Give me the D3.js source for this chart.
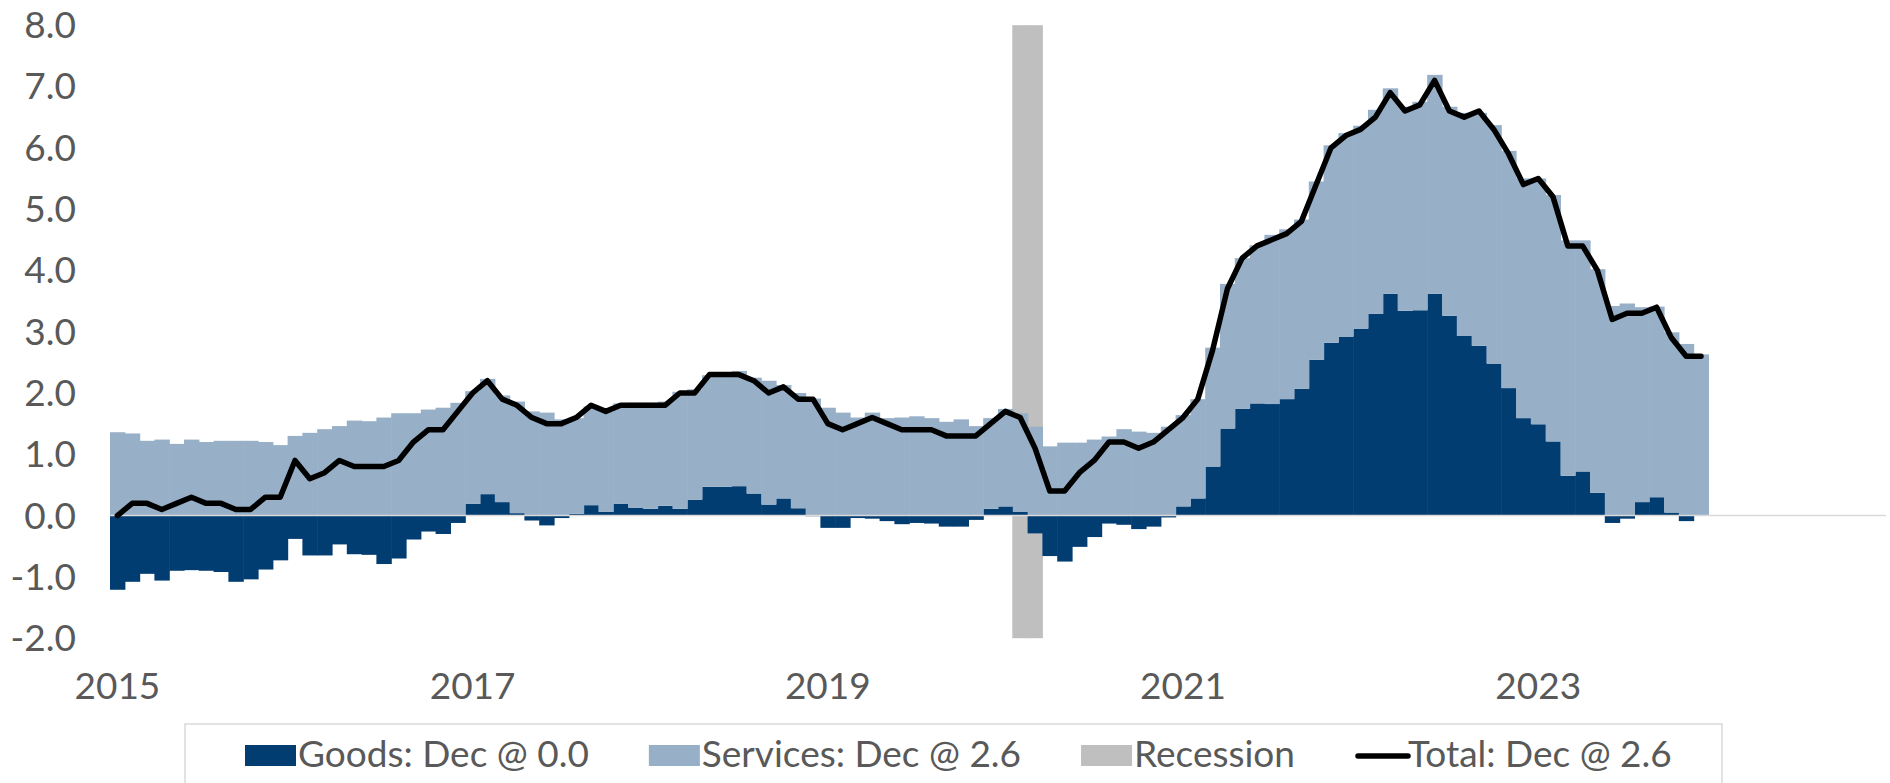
<!DOCTYPE html>
<html>
<head>
<meta charset="utf-8">
<script src="https://cdn.jsdelivr.net/npm/d3@7"></script>
<style>
  body { margin: 0; background: #fff; }
  svg text { font-family: Lato, "DejaVu Sans", sans-serif; fill: #595959; }
</style>
</head>
<body>
<svg id="chart"></svg>
<script>
var W = 1890, H = 783;

// monthly categories, Jan 2015 .. Dec 2024 (data ends Dec 2023)
var months = d3.timeMonth.range(new Date(2015, 0, 1), new Date(2025, 0, 1));

var goods = [
  -1.21, -1.08, -0.95, -1.06, -0.90, -0.89, -0.90, -0.92, -1.08, -1.04, -0.88, -0.73,
  -0.38, -0.65, -0.65, -0.47, -0.63, -0.64, -0.79, -0.70, -0.39, -0.26, -0.30, -0.12,
   0.19,  0.35,  0.22,  0.04, -0.08, -0.16, -0.04,  0.03,  0.17,  0.06,  0.19,  0.13,
   0.11,  0.16,  0.11,  0.26,  0.47,  0.47,  0.48,  0.36,  0.18,  0.28,  0.12, -0.01,
  -0.20, -0.20, -0.04, -0.05, -0.09, -0.14, -0.12, -0.13, -0.18, -0.18, -0.07,  0.11,
   0.15,  0.06, -0.29, -0.66, -0.75, -0.51, -0.35, -0.13, -0.15, -0.22, -0.18, -0.03,
   0.15,  0.28,  0.80,  1.42,  1.74,  1.83,  1.82,  1.90,  2.07,  2.54,  2.82,  2.92,
   3.05,  3.29,  3.62,  3.34,  3.35,  3.62,  3.26,  2.93,  2.77,  2.48,  2.08,  1.59,
   1.49,  1.21,  0.65,  0.72,  0.37, -0.12, -0.05,  0.22,  0.30,  0.05, -0.09,  0.00
];

var services = [
  1.36, 1.34, 1.22, 1.24, 1.17, 1.24, 1.20, 1.22, 1.22, 1.22, 1.20, 1.15,
  1.30, 1.35, 1.41, 1.46, 1.55, 1.54, 1.60, 1.67, 1.67, 1.73, 1.76, 1.84,
  1.84, 1.88, 1.74, 1.82, 1.70, 1.68, 1.57, 1.56, 1.61, 1.64, 1.64, 1.71,
  1.73, 1.70, 1.91, 1.80, 1.82, 1.84, 1.88, 1.89, 2.02, 1.85, 1.88, 1.91,
  1.76, 1.68, 1.60, 1.68, 1.59, 1.60, 1.62, 1.59, 1.53, 1.57, 1.46, 1.48,
  1.59, 1.61, 1.45, 1.13, 1.19, 1.19, 1.24, 1.29, 1.41, 1.37, 1.35, 1.45,
  1.49, 1.62, 1.94, 2.36, 2.46, 2.58, 2.76, 2.77, 2.76, 2.91, 3.22, 3.32,
  3.31, 3.33, 3.35, 3.33, 3.40, 3.57, 3.41, 3.64, 3.80, 3.89, 3.87, 3.91,
  4.01, 4.02, 3.84, 3.77, 3.65, 3.42, 3.46, 3.18, 3.11, 2.94, 2.80, 2.63
];

var total = [
  0.0, 0.2, 0.2, 0.1, 0.2, 0.3, 0.2, 0.2, 0.1, 0.1, 0.3, 0.3,
  0.9, 0.6, 0.7, 0.9, 0.8, 0.8, 0.8, 0.9, 1.2, 1.4, 1.4, 1.7,
  2.0, 2.2, 1.9, 1.8, 1.6, 1.5, 1.5, 1.6, 1.8, 1.7, 1.8, 1.8,
  1.8, 1.8, 2.0, 2.0, 2.3, 2.3, 2.3, 2.2, 2.0, 2.1, 1.9, 1.9,
  1.5, 1.4, 1.5, 1.6, 1.5, 1.4, 1.4, 1.4, 1.3, 1.3, 1.3, 1.5,
  1.7, 1.6, 1.1, 0.4, 0.4, 0.7, 0.9, 1.2, 1.2, 1.1, 1.2, 1.4,
  1.6, 1.9, 2.7, 3.7, 4.2, 4.4, 4.5, 4.6, 4.8, 5.4, 6.0, 6.2,
  6.3, 6.5, 6.9, 6.6, 6.7, 7.1, 6.6, 6.5, 6.6, 6.3, 5.9, 5.4,
  5.5, 5.2, 4.4, 4.4, 4.0, 3.2, 3.3, 3.3, 3.4, 2.9, 2.6, 2.6
];

var recessionMonths = ["2020-02", "2020-03"];
var yTicks = [-2, -1, 0, 1, 2, 3, 4, 5, 6, 7, 8];
var xTickYears = [2015, 2017, 2019, 2021, 2023];
var legendLabels = ["Goods: Dec @ 0.0", "Services: Dec @ 2.6", "Recession", "Total: Dec @ 2.6"];

var colors = { goods: "#023D72", services: "#97B0C8", recession: "#BFBFBF", total: "#000000", axis: "#D9D9D9" };

var fmtMonth = d3.timeFormat("%Y-%m");
var keys = months.map(fmtMonth);

var svg = d3.select("#chart").attr("width", W).attr("height", H);

var x = d3.scaleBand().domain(keys).range([110, 1886]).padding(0);
var y = d3.scaleLinear().domain([-2, 8]).range([638.2, 25.2]);

var rows = goods.map(function(g, i) {
  return { key: keys[i], goods: g, services: services[i] };
});
var stacked = d3.stack().keys(["goods", "services"]).offset(d3.stackOffsetDiverging)(rows);

// recession shading
svg.append("g").selectAll("rect")
  .data(recessionMonths)
  .enter().append("rect")
  .attr("x", function(d) { return x(d) - 0.5; })
  .attr("width", x.bandwidth() + 1)
  .attr("y", y(8))
  .attr("height", y(-2) - y(8))
  .attr("fill", colors.recession);

// stacked bars
svg.append("g").selectAll("g")
  .data(stacked)
  .enter().append("g")
  .attr("fill", function(d) { return colors[d.key]; })
  .selectAll("rect")
  .data(function(d) { return d; })
  .enter().append("rect")
  .attr("x", function(d) { return x(d.data.key); })
  .attr("width", x.bandwidth() + 0.6)
  .attr("y", function(d) { return y(Math.max(d[0], d[1])); })
  .attr("height", function(d) { return Math.abs(y(d[0]) - y(d[1])); });

// zero axis line
svg.append("line")
  .attr("x1", 110).attr("x2", 1886)
  .attr("y1", y(0)).attr("y2", y(0))
  .attr("stroke", colors.axis)
  .attr("stroke-width", 1.5);

// total line
var line = d3.line()
  .x(function(d, i) { return x(keys[i]) + x.bandwidth() / 2; })
  .y(function(d) { return y(d); });

svg.append("path")
  .datum(total)
  .attr("d", line)
  .attr("fill", "none")
  .attr("stroke", colors.total)
  .attr("stroke-width", 5.5)
  .attr("stroke-linejoin", "round")
  .attr("stroke-linecap", "round");

// y axis labels
svg.append("g").selectAll("text")
  .data(yTicks)
  .enter().append("text")
  .attr("x", 76)
  .attr("y", function(d) { return y(d); })
  .attr("dy", "0.35em")
  .attr("text-anchor", "end")
  .style("font-size", "37px")
  .text(function(d) { return d.toFixed(1); });

// x axis labels
svg.append("g").selectAll("text")
  .data(xTickYears)
  .enter().append("text")
  .attr("x", function(d) { return x(d + "-01") + x.bandwidth() / 2; })
  .attr("y", 699)
  .attr("text-anchor", "middle")
  .style("font-size", "37px")
  .text(function(d) { return d; });

// legend
svg.append("rect")
  .attr("x", 185).attr("y", 724)
  .attr("width", 1537).attr("height", 80)
  .attr("fill", "#fff")
  .attr("stroke", colors.axis)
  .attr("stroke-width", 1.5);

var legendKeys = ["goods", "services", "recession", "total"];
var lx = 245;
legendKeys.forEach(function(k, i) {
  var g = svg.append("g");
  if (k === "total") {
    g.append("line")
      .attr("x1", lx + 3).attr("x2", lx + 53)
      .attr("y1", 756).attr("y2", 756)
      .attr("stroke", colors.total).attr("stroke-width", 5.5)
      .attr("stroke-linecap", "round");
  } else {
    g.append("rect")
      .attr("x", lx).attr("y", 745)
      .attr("width", 51).attr("height", 21)
      .attr("fill", colors[k]);
  }
  var t = g.append("text")
    .attr("x", lx + 53)
    .attr("y", 767)
    .style("font-size", "37px")
    .text(legendLabels[i]);
  lx = lx + 53 + t.node().getComputedTextLength() + 60;
});
</script>
</body>
</html>
